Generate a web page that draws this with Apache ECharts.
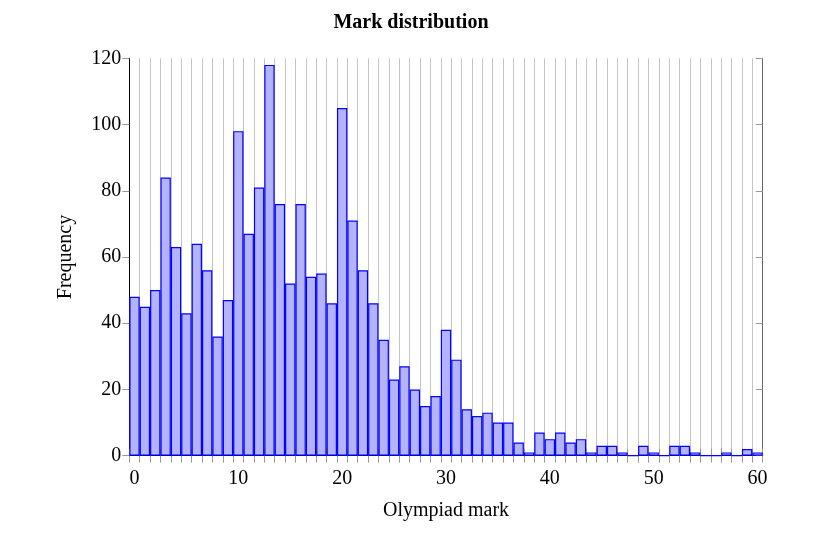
<!DOCTYPE html>
<html>
<head>
<meta charset="utf-8">
<script src="https://cdn.jsdelivr.net/npm/echarts@6/dist/echarts.min.js"></script>
<style>html,body{margin:0;padding:0;background:#fff}#c{width:822px;height:536px}</style>
</head>
<body>
<div id="c"></div>
<script>
const categories = Array.from({length: 61}, (_, i) => String(i));
const frequency = [48,45,50,84,63,43,64,56,36,47,98,67,81,118,76,52,76,54,55,46,105,71,56,46,35,23,27,20,15,18,38,29,14,12,13,10,10,4,1,7,5,7,4,5,1,3,3,1,0,3,1,0,3,3,1,0,0,1,0,2,1];
const yTicks = {min: 0, max: 120, interval: 20};
const FONT = '"Liberation Serif", "DejaVu Serif", serif';

const chart = echarts.init(document.getElementById('c'), null, {renderer: 'canvas'});
chart.setOption({
  animation: false,
  backgroundColor: '#fff',
  title: {
    text: 'Mark distribution', left: 'center', top: 8,
    textStyle: {fontFamily: FONT, fontSize: 20, fontWeight: 'bold', color: '#000'}
  },
  grid: {left: 129.3, right: 59.3, top: 58.3, bottom: 80.3, containLabel: false},
  xAxis: [{
    type: 'category', data: categories, position: 'bottom', boundaryGap: true,
    name: 'Olympiad mark', nameLocation: 'middle', nameGap: 45,
    nameTextStyle: {fontFamily: FONT, fontSize: 20, color: '#000'},
    axisLine: {show: true, lineStyle: {color: '#000', width: 1}},
    axisTick: {show: true, interval: 0, length: 7, lineStyle: {color: '#999'}},
    axisLabel: {interval: 9, margin: 13, fontFamily: FONT, fontSize: 20, color: '#000'},
    splitLine: {show: true, interval: 0, lineStyle: {color: '#c4c4c4', width: 1}}
  }, {
    type: 'category', data: categories, position: 'top', boundaryGap: true,
    axisLine: {show: true, lineStyle: {color: '#000', width: 1}},
    axisTick: {show: true, interval: 0, length: 7, lineStyle: {color: '#999'}},
    axisLabel: {show: false}, splitLine: {show: false}
  }],
  yAxis: [{
    type: 'value', min: yTicks.min, max: yTicks.max, interval: yTicks.interval, position: 'left',
    name: 'Frequency', nameLocation: 'middle', nameGap: 54, nameRotate: 90,
    nameTextStyle: {fontFamily: FONT, fontSize: 20, color: '#000'},
    axisLine: {show: true, lineStyle: {color: '#000', width: 1}},
    axisTick: {show: true, length: 7, lineStyle: {color: '#999'}},
    axisLabel: {margin: 8, fontFamily: FONT, fontSize: 20, color: '#000'},
    splitLine: {show: false}
  }, {
    type: 'value', min: yTicks.min, max: yTicks.max, interval: yTicks.interval, position: 'right',
    axisLine: {show: true, lineStyle: {color: '#666', width: 1}},
    axisTick: {show: true, inside: true, length: 7, lineStyle: {color: '#999'}},
    axisLabel: {show: false}, splitLine: {show: false}
  }],
  series: [{
    type: 'bar', data: frequency, xAxisIndex: 0, yAxisIndex: 0,
    barCategoryGap: '0%', barGap: '0%',
    itemStyle: {color: '#b3b3ff', borderColor: '#0000ff', borderWidth: 1.2},
    z: 3
  }]
});
</script>
</body>
</html>
